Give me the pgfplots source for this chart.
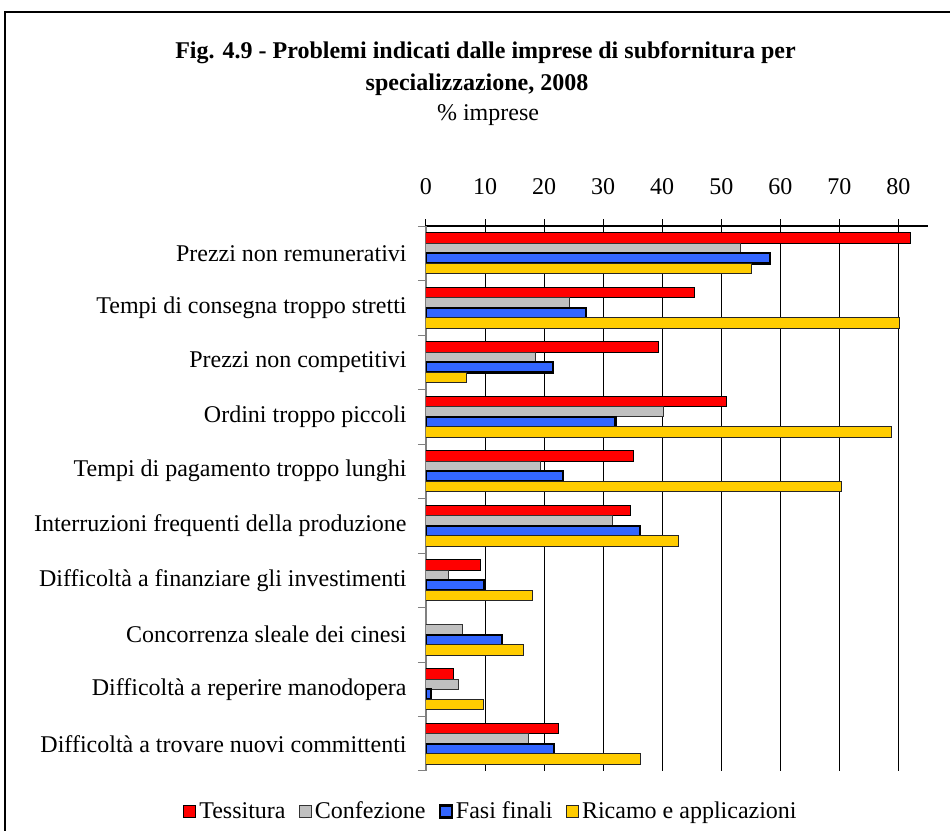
\documentclass[border=0pt]{standalone}
\usepackage{fontspec}
\setmainfont{Liberation Serif}
\usepackage{pgfplots}
\pgfplotsset{compat=1.18}
\definecolor{cRed}{HTML}{FF0000}
\definecolor{cGray}{HTML}{C0C0C0}
\definecolor{cBlue}{HTML}{3366FF}
\definecolor{cYel}{HTML}{FFCC00}
\pgfplotsset{
  lsq/.style={legend image code/.code={\draw[##1, line width=0.6pt] (0pt,-2.8pt) rectangle (6pt,3.2pt);}},
  lsqb/.style={legend image code/.code={\draw[##1, line width=1.1pt] (0pt,-2.8pt) rectangle (6pt,3.2pt);}}}
\begin{document}
\fontsize{12}{14}\selectfont
\begin{tikzpicture}
\begin{axis}[
  at={(213pt,30pt)}, anchor=south west,
  scale only axis, width=251pt, height=272.5pt,
  xmin=0, xmax=85, ymin=-0.5, ymax=9.5,
  xbar, bar width=5.1pt,
  axis x line=top, axis y line=left,
  x axis line style={black, line width=0.6pt, -},
  y axis line style={gray, line width=0.6pt, -},
  xtick={0,10,...,80},
  xmajorgrids, major grid style={black, line width=0.5pt},
  tick align=outside, major tick length=3.5pt, minor tick length=4pt,
  ytick={0,...,9},
  yticklabels={Difficoltà a trovare nuovi committenti,
    Difficoltà a reperire manodopera,
    Concorrenza sleale dei cinesi,
    Difficoltà a finanziare gli investimenti,
    Interruzioni frequenti della produzione,
    Tempi di pagamento troppo lunghi,
    Ordini troppo piccoli,
    Prezzi non competitivi,
    Tempi di consegna troppo stretti,
    Prezzi non remunerativi},
  minor ytick={-0.5,0.5,...,9.5},
  major y tick style={draw=none},
  minor y tick style={gray, line width=0.5pt},
  major x tick style={black, line width=0.5pt},
  /pgf/number format/assume math mode=true,
  tick label style={font=\fontsize{12}{14}\selectfont},
  xticklabel style={yshift=8pt},
  yticklabel style={xshift=-2pt},
  legend columns=4,
  legend style={draw=none, fill=none, at={(0.127,-0.075)}, anchor=center,
    font=\fontsize{12}{14}\selectfont,
    nodes={inner sep=0pt},
    /tikz/every odd column/.append style={column sep=1.6pt},
    /tikz/every even column/.append style={column sep=6.5pt}},
]
% categories: y=9 top ... y=0 bottom
\addplot[fill=cRed, draw=black, line width=0.5pt, bar shift=7.65pt, lsq] coordinates {
 (82.0,9) (45.4,8) (39.4,7) (50.8,6) (35.2,5) (34.6,4) (9.2,3) (4.7,1) (22.4,0)};
\addplot[fill=cGray, draw=black!80, line width=0.5pt, bar shift=2.55pt, lsq] coordinates {
 (53.2,9) (24.3,8) (18.6,7) (40.3,6) (19.4,5) (31.5,4) (3.8,3) (6.2,2) (5.5,1) (17.3,0)};
\addplot[fill=cBlue, draw=black, line width=1.1pt, bar shift=-2.55pt, lsqb] coordinates {
 (58.2,9) (27.1,8) (21.5,7) (32.1,6) (23.2,5) (36.2,4) (9.9,3) (12.9,2) (0.8,1) (21.7,0)};
\addplot[fill=cYel, draw=black!85, line width=0.5pt, bar shift=-7.65pt, lsq] coordinates {
 (55.2,9) (80.1,8) (6.8,7) (78.8,6) (70.4,5) (42.8,4) (18.1,3) (16.5,2) (9.7,1) (36.3,0)};
\legend{Tessitura, Confezione, Fasi finali, Ricamo e applicazioni}
\end{axis}
\draw[line width=0.6pt] (2.5pt,-10pt) -- (2.5pt,409.5pt) -- (490pt,409.5pt);
\node[anchor=base, font=\bfseries\fontsize{12}{14}\selectfont, inner sep=0pt] at (242.75pt,386pt) {Fig. 4.9 - Problemi indicati dalle imprese di subfornitura per};
\node[anchor=base, font=\bfseries\fontsize{12}{14}\selectfont, inner sep=0pt] at (238.5pt,370pt) {specializzazione, 2008};
\node[anchor=base, font=\fontsize{12}{14}\selectfont, inner sep=0pt] at (244pt,355pt) {\% imprese};
\pgfresetboundingbox
\useasboundingbox (0,0) rectangle (475pt,415.5pt);
\end{tikzpicture}
\end{document}
